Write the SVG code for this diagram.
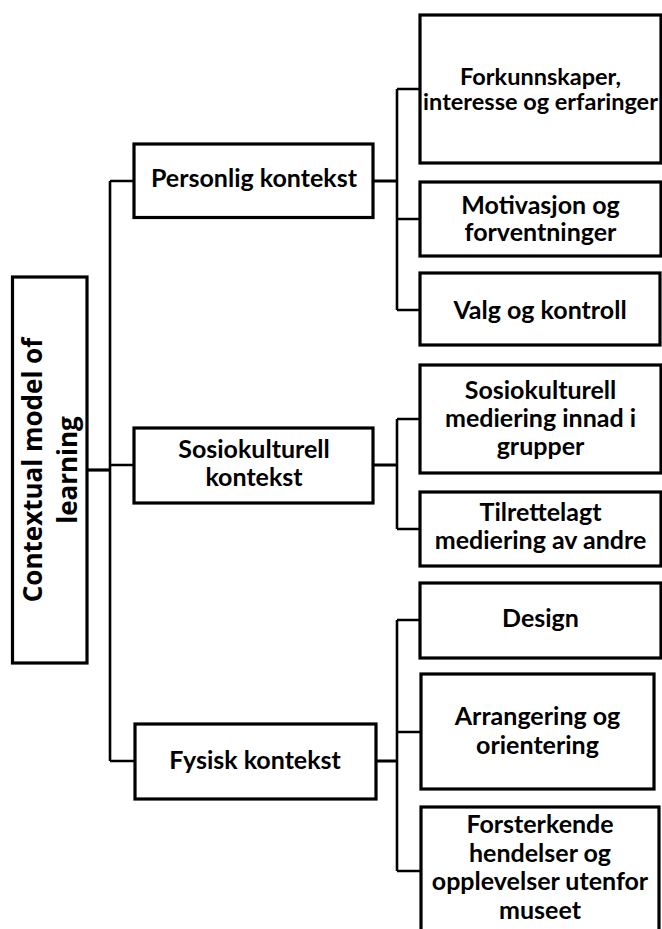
<svg xmlns="http://www.w3.org/2000/svg" width="662" height="929" viewBox="0 0 662 929">
<style>
.box{fill:#fff;stroke:#000;stroke-width:3.2}
.t{font-family:Lato,"Open Sans","Liberation Sans",sans-serif;font-weight:700;font-size:25px;fill:#000;text-anchor:middle}
.sm{font-size:23.5px}
.root{font-family:"Open Sans","Liberation Sans",sans-serif;font-weight:700;font-size:26px;fill:#000;text-anchor:middle}
.c{fill:none;stroke:#000;stroke-width:2.6}
.ct{fill:none;stroke:#000;stroke-width:3.2}
</style>
<rect width="662" height="929" fill="#fff"/>
<g id="connectors">
<path class="ct" d="M87 470H110"/>
<path class="c" d="M110 181V761M110 181H134M110 465H134M110 761H135"/>
<path class="ct" d="M373 181H397M373 465H397M376 761H397"/>
<path class="c" d="M397 89V310M397 89H420M397 219H420M397 310H420"/>
<path class="c" d="M397 419V529M397 419H420M397 529H420"/>
<path class="c" d="M397 620V871M397 620H420M397 732H420M397 871H420"/>
</g>
<g id="root">
<rect class="box" x="12.5" y="277" width="74.5" height="386"/>
<g transform="translate(50,470) rotate(-90)">
<text class="root" x="0" y="-8">Contextual model of</text>
<text class="root" x="0" y="27">learning</text>
</g>
</g>
<g id="personlig">
<rect class="box" x="134" y="144" width="239" height="73.5"/>
<text class="t" x="254" y="187">Personlig kontekst</text>
</g>
<g id="sosiokulturell">
<rect class="box" x="134" y="428" width="239" height="75"/>
<text class="t" x="254" y="457.5">Sosiokulturell</text>
<text class="t" x="254" y="486">kontekst</text>
</g>
<g id="fysisk">
<rect class="box" x="135" y="724" width="241" height="75"/>
<text class="t" x="255" y="768.5">Fysisk kontekst</text>
</g>
<g id="forkunnskaper">
<rect class="box" x="420" y="15" width="241" height="148"/>
<text class="t sm" x="540.5" y="84.5">Forkunnskaper,</text>
<text class="t sm" x="540.5" y="110">interesse og erfaringer</text>
</g>
<g id="motivasjon">
<rect class="box" x="420" y="182" width="241" height="74"/>
<text class="t" x="540.5" y="213.5">Motivasjon og</text>
<text class="t" x="540.5" y="241">forventninger</text>
</g>
<g id="valg">
<rect class="box" x="420" y="273" width="240" height="72"/>
<text class="t" x="540" y="318.5">Valg og kontroll</text>
</g>
<g id="sosio-mediering">
<rect class="box" x="420" y="365" width="241" height="108"/>
<text class="t" x="540.5" y="398.5">Sosiokulturell</text>
<text class="t" x="540.5" y="427">mediering innad i</text>
<text class="t" x="540.5" y="455">grupper</text>
</g>
<g id="tilrettelagt">
<rect class="box" x="420" y="492" width="241" height="74"/>
<text class="t" x="540.5" y="520.5">Tilrettelagt</text>
<text class="t" x="540.5" y="549">mediering av andre</text>
</g>
<g id="design">
<rect class="box" x="420" y="583" width="241" height="75"/>
<text class="t" x="540.5" y="627">Design</text>
</g>
<g id="arrangering">
<rect class="box" x="421" y="674" width="233" height="115"/>
<text class="t" x="537.5" y="725">Arrangering og</text>
<text class="t" x="537.5" y="753.5">orientering</text>
</g>
<g id="forsterkende">
<rect class="box" x="421" y="807" width="238" height="130"/>
<text class="t" x="540" y="833">Forsterkende</text>
<text class="t" x="540" y="861.5">hendelser og</text>
<text class="t" x="540" y="890">opplevelser utenfor</text>
<text class="t" x="540" y="918.5">museet</text>
</g>
</svg>
